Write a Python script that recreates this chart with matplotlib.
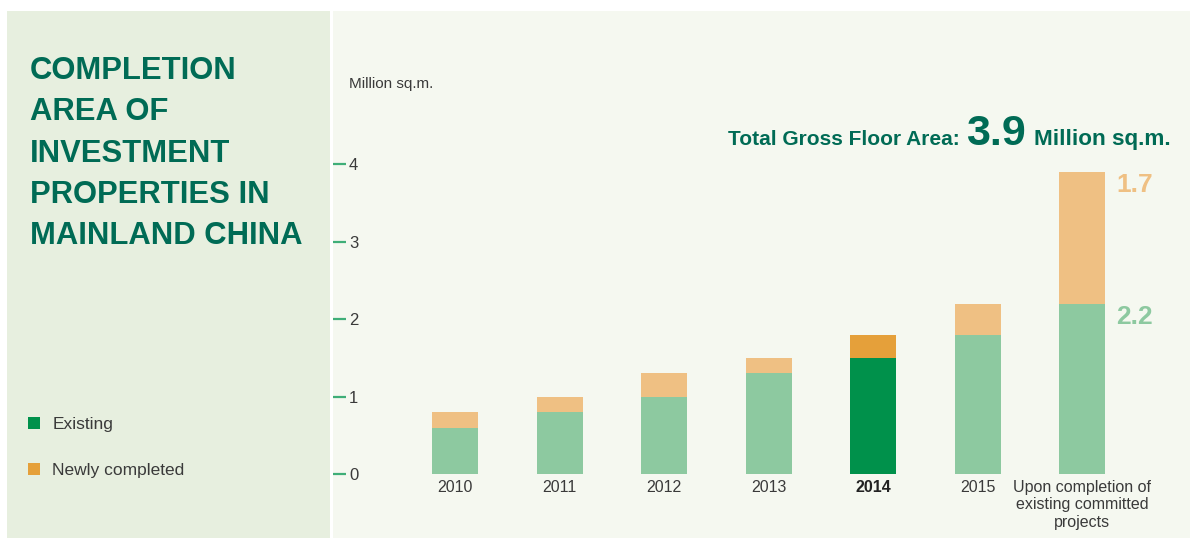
import matplotlib
matplotlib.use("Agg")
import matplotlib.pyplot as plt
from matplotlib.patches import Rectangle, Patch

# ---- data ----
categories = ["2010", "2011", "2012", "2013", "2014", "2015",
              "Upon completion of\nexisting committed\nprojects"]
existing = [0.6, 0.8, 1.0, 1.3, 1.5, 1.8, 2.2]
newly = [0.2, 0.2, 0.3, 0.2, 0.3, 0.4, 1.7]
highlight = "2014"
y_ticks = [0, 1, 2, 3, 4]
title_lines = ["COMPLETION", "AREA OF", "INVESTMENT", "PROPERTIES IN", "MAINLAND CHINA"]
legend_labels = ["Existing", "Newly completed"]
total_value = "3.9"

# ---- style ----
W, H = 1190, 538
DPI = 100
FONT = "Liberation Sans"
TEAL = "#006b55"
LIGHT_GREEN = "#8dc9a0"
LIGHT_ORANGE = "#efc083"
DARK_GREEN = "#00914b"
ORANGE = "#e5a03a"
LEFT_BG = "#e7efdf"
RIGHT_BG = "#f5f8f0"
TEXT = "#3a3a3a"

plt.rcParams["font.family"] = [FONT, "DejaVu Sans"]

fig = plt.figure(figsize=(W / DPI, H / DPI), dpi=DPI, facecolor="white")

def fx(px):
    return px / W

def fy(py):
    return 1 - py / H

# panels
fig.patches.append(Rectangle((fx(7), 0), fx(330 - 7), fy(11), transform=fig.transFigure,
                             facecolor=LEFT_BG, edgecolor="none", zorder=-5))
fig.patches.append(Rectangle((fx(333), 0), fx(W - 333), fy(11), transform=fig.transFigure,
                             facecolor=RIGHT_BG, edgecolor="none", zorder=-5))

# axes: zero at y=474px, 77.4 px per unit
ppu = 77.4
y0_px = 474
ytop = 4.5
ax_left = 333
ax_right = W
ax = fig.add_axes([fx(ax_left), fy(y0_px), fx(ax_right - ax_left), ytop * ppu / H])
ax.set_zorder(1)
ax.set_facecolor("none")
for s in ax.spines.values():
    s.set_visible(False)

xs = list(range(len(categories)))
spacing = 104.5
first_c = 455
ax.set_xlim(-(first_c - ax_left) / spacing, (ax_right - first_c) / spacing)
ax.set_ylim(0, ytop)

bw = 46 / spacing
c_ex = [DARK_GREEN if c == highlight else LIGHT_GREEN for c in categories]
c_nw = [ORANGE if c == highlight else LIGHT_ORANGE for c in categories]
ax.bar(xs, existing, width=bw, color=c_ex, linewidth=0, zorder=2)
ax.bar(xs, newly, bottom=existing, width=bw, color=c_nw, linewidth=0, zorder=2)

# y ticks
ax.set_yticks(y_ticks)
ax.set_yticklabels([str(t) for t in y_ticks])
ax.tick_params(axis="y", direction="in", length=13 * 72 / DPI, width=1.6,
               color="#3fae78", pad=-16 * 72 / DPI, labelsize=12, labelcolor=TEXT)
for lab in ax.get_yticklabels():
    lab.set_horizontalalignment("left")

# x ticks
ax.set_xticks(xs)
ax.set_xticklabels(categories, fontsize=11.5, color=TEXT, linespacing=1.2, va="top")
ax.tick_params(axis="x", length=0, pad=6 * 72 / DPI)
for lab, c in zip(ax.get_xticklabels(), categories):
    if c == highlight:
        lab.set_fontweight("bold")
        lab.set_color("#222222")

# labels on last bar
last = len(categories) - 1
ax.annotate(f"{newly[last]:.1f}", xy=(last + bw / 2, existing[last] + newly[last]),
            xytext=(11, -1), textcoords="offset pixels", ha="left", va="top",
            fontsize=19, fontweight="bold", color=LIGHT_ORANGE)
ax.annotate(f"{existing[last]:.1f}", xy=(last + bw / 2, existing[last]),
            xytext=(11, -1), textcoords="offset pixels", ha="left", va="top",
            fontsize=19, fontweight="bold", color=LIGHT_GREEN)

# unit label
fig.text(fx(349), fy(84), "Million sq.m.", fontsize=11, color=TEXT, va="center", ha="left")

# total line
base = fy(145)
fig.text(fx(960), base, "Total Gross Floor Area:", fontsize=15, fontweight="bold",
         color=TEAL, ha="right", va="baseline")
fig.text(fx(966), base, total_value, fontsize=31, fontweight="bold",
         color=TEAL, ha="left", va="baseline")
fig.text(fx(1034), base, "Million sq.m.", fontsize=16.2, fontweight="bold",
         color=TEAL, ha="left", va="baseline")

# title
baselines = [79, 120, 162, 203, 244]
for line, b in zip(title_lines, baselines):
    fig.text(fx(30), fy(b), line, fontsize=22.3, fontweight="bold", color=TEAL,
             ha="left", va="baseline")

# legend
handles = [Patch(facecolor=DARK_GREEN, edgecolor="none"),
           Patch(facecolor=ORANGE, edgecolor="none")]
fig.legend(handles, legend_labels, loc="upper left", bbox_to_anchor=(fx(28), fy(417)),
           frameon=False, fontsize=12.5, handlelength=0.7, handleheight=0.7,
           handletextpad=0.7, labelspacing=1.75, borderpad=0, borderaxespad=0,
           labelcolor=TEXT)

fig.savefig("out.png", dpi=DPI, facecolor="white")
